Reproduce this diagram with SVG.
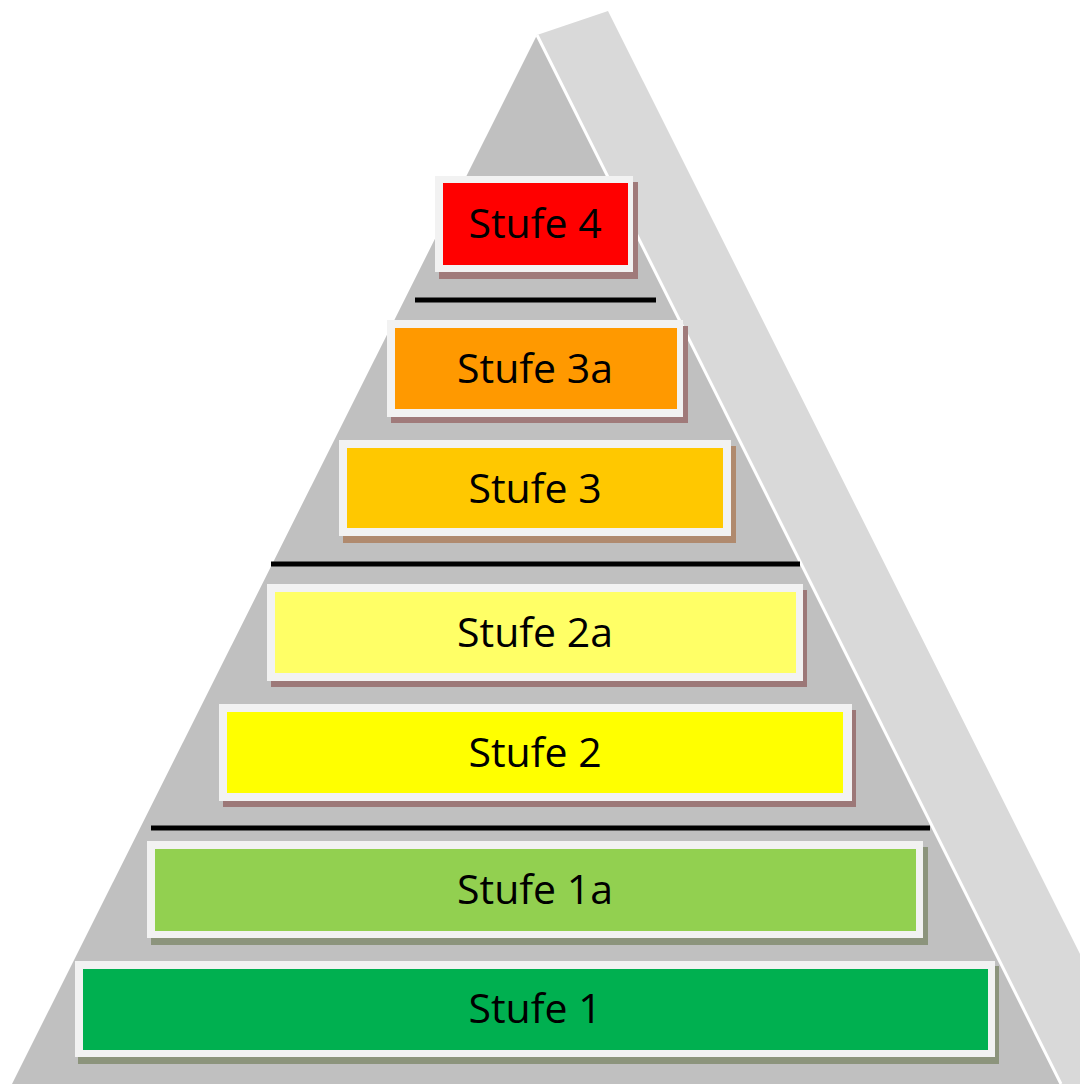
<svg xmlns="http://www.w3.org/2000/svg" width="1080" height="1084" viewBox="0 0 1080 1084">
  <style>
    .frame { fill: #f2f2f2; }
    .label { font-family: "Open Sans", "Liberation Sans", sans-serif; font-size: 41px; fill: #000; text-anchor: middle; }
    .sep { stroke: #000; stroke-width: 5; }
  </style>
  <rect width="1080" height="1084" fill="#ffffff"/>

  <!-- pyramid body -->
  <g id="pyramid">
    <polygon points="537,35 608,11 1145,1084 1061,1084" fill="#d9d9d9"/>
    <polygon points="537,35 1061,1084 12,1084" fill="#c0c0c0"/>
    <line x1="537" y1="35" x2="1061" y2="1084" stroke="#ffffff" stroke-width="3"/>
  </g>

  <!-- separators between level groups -->
  <g id="connectors">
    <line class="sep" x1="415" y1="300" x2="656" y2="300"/>
    <line class="sep" x1="271" y1="564" x2="800" y2="564"/>
    <line class="sep" x1="151" y1="828" x2="930" y2="828"/>
  </g>

  <g id="stufe4">
    <rect x="439" y="182" width="199" height="97" fill="#a07a7a"/>
    <rect class="frame" x="435" y="176" width="198" height="96"/>
    <rect x="443" y="183" width="185" height="82" fill="#ff0000"/>
    <text class="label" x="535" y="238">Stufe 4</text>
  </g>

  <g id="stufe3a">
    <rect x="391" y="326" width="297" height="97" fill="#a07a7a"/>
    <rect class="frame" x="387" y="320" width="296" height="97"/>
    <rect x="395" y="328" width="282" height="81" fill="#ff9900"/>
    <text class="label" x="535" y="383">Stufe 3a</text>
  </g>

  <g id="stufe3">
    <rect x="343" y="446" width="393" height="97" fill="#b08a6e"/>
    <rect class="frame" x="339" y="440" width="392" height="96"/>
    <rect x="347" y="448" width="376" height="80" fill="#ffc800"/>
    <text class="label" x="535" y="503">Stufe 3</text>
  </g>

  <g id="stufe2a">
    <rect x="271" y="590" width="536" height="97" fill="#9c7878"/>
    <rect class="frame" x="267" y="584" width="536" height="97"/>
    <rect x="275" y="592" width="521" height="81" fill="#ffff66"/>
    <text class="label" x="535" y="647">Stufe 2a</text>
  </g>

  <g id="stufe2">
    <rect x="223" y="710" width="633" height="97" fill="#9c7878"/>
    <rect class="frame" x="219" y="704" width="633" height="97"/>
    <rect x="227" y="712" width="616" height="81" fill="#ffff00"/>
    <text class="label" x="535" y="767">Stufe 2</text>
  </g>

  <g id="stufe1a">
    <rect x="151" y="847" width="777" height="98" fill="#8c947c"/>
    <rect class="frame" x="147" y="841" width="776" height="97"/>
    <rect x="155" y="849" width="761" height="82" fill="#92d050"/>
    <text class="label" x="535" y="904">Stufe 1a</text>
  </g>

  <g id="stufe1">
    <rect x="78" y="966" width="921" height="98" fill="#8c947c"/>
    <rect class="frame" x="75" y="961" width="920" height="96"/>
    <rect x="83" y="969" width="905" height="81" fill="#00b050"/>
    <text class="label" x="535" y="1023">Stufe 1</text>
  </g>
</svg>
